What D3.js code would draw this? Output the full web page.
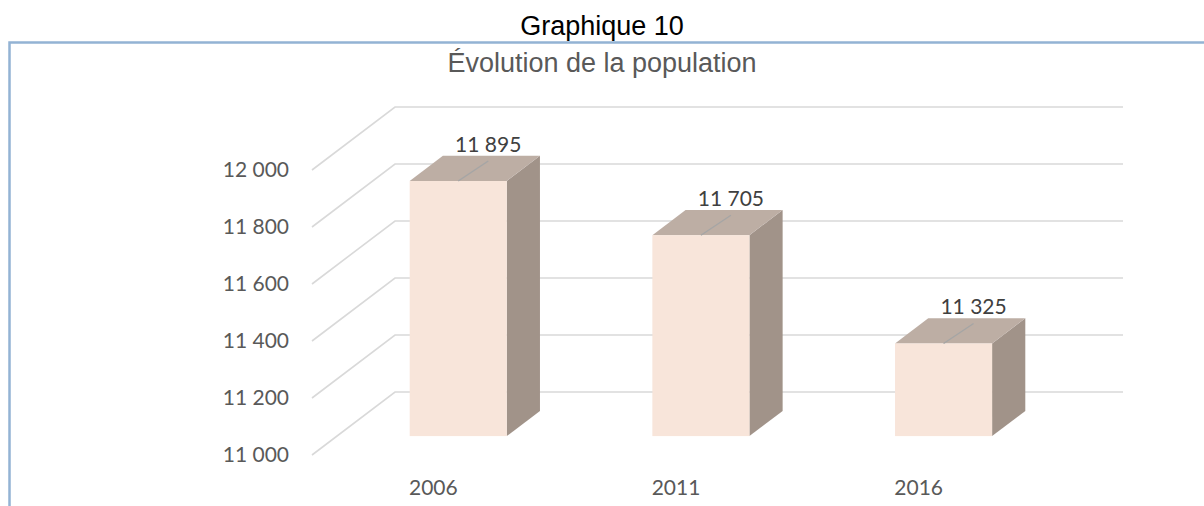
<!DOCTYPE html>
<html>
<head>
<meta charset="utf-8">
<script src="https://cdn.jsdelivr.net/npm/d3@7"></script>
<style>
  body { margin: 0; background: #fff; }
  svg { display: block; }
</style>
</head>
<body>
<div id="chart"></div>
<script>
var years = ["2006", "2011", "2016"];
var population = [11895, 11705, 11325];
var yTicks = [11000, 11200, 11400, 11600, 11800, 12000];

var fmt = function(v) {
  return d3.format(",")(v).replace(",", " ");
};

var W = 1204, H = 506;
// depth of the fake 3d box
var depthX = 83, depthY = -63;
var barFront = 0.3, barBack = 0.7;

var svg = d3.select("#chart")
  .append("svg")
  .attr("width", W)
  .attr("height", H);

var x = d3.scaleBand()
  .domain(years)
  .range([312, 1040])
  .paddingInner(0.6)
  .paddingOuter(0.3);

var y = d3.scaleLinear()
  .domain([11000, 12000])
  .range([455, 170]);

// frame
svg.append("path")
  .attr("d", "M9.5," + H + " L9.5,42.5 L" + W + ",42.5")
  .attr("fill", "none")
  .attr("stroke", "#93b3d4")
  .attr("stroke-width", 2.5);

svg.append("text")
  .attr("x", W / 2)
  .attr("y", 35)
  .attr("text-anchor", "middle")
  .style("font-family", "Liberation Sans, Arial, sans-serif")
  .style("font-size", "27px")
  .attr("fill", "#000")
  .text("Graphique 10");

svg.append("text")
  .attr("x", W / 2)
  .attr("y", 72)
  .attr("text-anchor", "middle")
  .style("font-family", "Liberation Sans, Arial, sans-serif")
  .style("font-size", "27px")
  .attr("fill", "#595959")
  .text("Évolution de la population");

// gridlines (floor diagonal + back wall)
var x0 = x.range()[0], x1 = x.range()[1];
svg.append("g")
  .selectAll("path")
  .data(yTicks)
  .join("path")
  .attr("d", function(d) {
    var yy = y(d);
    return "M" + x0 + "," + yy +
      " L" + (x0 + depthX) + "," + (yy + depthY) +
      " L" + (x1 + depthX) + "," + (yy + depthY);
  })
  .attr("fill", "none")
  .attr("stroke", "#d9d9d9")
  .attr("stroke-width", 1.6);

// y labels
svg.append("g")
  .selectAll("text")
  .data(yTicks)
  .join("text")
  .attr("x", 289)
  .attr("y", function(d) { return y(d); })
  .attr("dy", "0.35em")
  .attr("text-anchor", "end")
  .style("font-family", "Lato, sans-serif")
  .style("font-size", "21px")
  .attr("fill", "#595959")
  .text(fmt);

// category labels
svg.append("g")
  .selectAll("text")
  .data(years)
  .join("text")
  .attr("x", function(d) { return x(d) + x.bandwidth() / 2; })
  .attr("y", 495)
  .attr("text-anchor", "middle")
  .style("font-family", "Lato, sans-serif")
  .style("font-size", "21px")
  .attr("fill", "#595959")
  .text(function(d) { return d; });

// bars
var fx = depthX * barFront, fy = depthY * barFront;
var bx = depthX * (barBack - barFront), by = depthY * (barBack - barFront);

var bars = svg.append("g")
  .selectAll("g")
  .data(years.map(function(yr, i) { return { year: yr, value: population[i] }; }))
  .join("g");

bars.append("path") // side
  .attr("d", function(d) {
    var l = x(d.year) + fx, r = l + x.bandwidth();
    var t = y(d.value) + fy, b = y(11000) + fy;
    return "M" + r + "," + t + " L" + (r + bx) + "," + (t + by) +
      " L" + (r + bx) + "," + (b + by) + " L" + r + "," + b + "Z";
  })
  .attr("fill", "#a19389");

bars.append("path") // top
  .attr("d", function(d) {
    var l = x(d.year) + fx, r = l + x.bandwidth();
    var t = y(d.value) + fy;
    return "M" + l + "," + t + " L" + (l + bx) + "," + (t + by) +
      " L" + (r + bx) + "," + (t + by) + " L" + r + "," + t + "Z";
  })
  .attr("fill", "#bdaea4");

bars.append("rect") // front
  .attr("x", function(d) { return x(d.year) + fx; })
  .attr("y", function(d) { return y(d.value) + fy; })
  .attr("width", x.bandwidth())
  .attr("height", function(d) { return y(11000) - y(d.value); })
  .attr("fill", "#f8e5da");

// leader lines + value labels
bars.append("line")
  .attr("x1", function(d) { return x(d.year) + fx + x.bandwidth() / 2; })
  .attr("y1", function(d) { return y(d.value) + fy; })
  .attr("x2", function(d) { return x(d.year) + fx + x.bandwidth() / 2 + 30; })
  .attr("y2", function(d) { return y(d.value) + fy - 20; })
  .attr("stroke", "#a5a5a5")
  .attr("stroke-width", 1.3);

bars.append("text")
  .attr("x", function(d) { return x(d.year) + fx + x.bandwidth() / 2 + 30; })
  .attr("y", function(d) { return y(d.value) + fy - 29; })
  .attr("text-anchor", "middle")
  .style("font-family", "Lato, sans-serif")
  .style("font-size", "21px")
  .attr("fill", "#404040")
  .text(function(d) { return fmt(d.value); });
</script>
</body>
</html>
